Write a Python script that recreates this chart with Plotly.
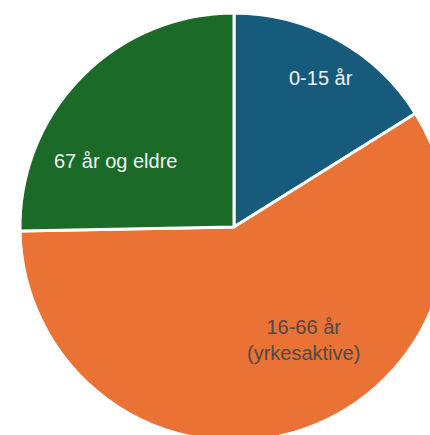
import plotly.graph_objects as go

labels = ["0-15 år", "16-66 år<br>(yrkesaktive)", "67 år og eldre"]
values = [16.1, 58.6, 25.3]
colors = ["#165b7c", "#e97234", "#1c6a28"]
label_colors = ["#eef2f4", "#4e4a47", "#eef2f4"]

# layout geometry (pixels)
W, H = 448, 441
ML, MT = 20, 13
D = 428
label_px = [(321, 78), (303, 340), (115, 161)]

fig = go.Figure(go.Pie(
    labels=labels,
    values=values,
    sort=False,
    direction="clockwise",
    rotation=0,
    marker=dict(colors=colors, line=dict(color="white", width=3)),
    textinfo="none",
    hoverinfo="label+percent",
    showlegend=False,
    domain=dict(x=[0, 1], y=[0, 1]),
))

for lab, col, (px, py) in zip(labels, label_colors, label_px):
    fig.add_annotation(
        x=(px - ML) / D, y=1 - (py - MT) / D,
        xref="paper", yref="paper",
        text=lab, showarrow=False,
        font=dict(family="Liberation Sans, Arial, sans-serif", size=20, color=col),
        align="center", xanchor="center", yanchor="middle",
    )

fig.update_layout(
    width=W, height=H,
    margin=dict(l=ML, r=0, t=MT, b=0, pad=0),
    paper_bgcolor="white",
    plot_bgcolor="white",
)

fig.write_html(
    "out.html",
    config={"displayModeBar": False},
    post_script="document.body.style.margin='0';document.body.style.overflow='hidden';document.documentElement.style.overflow='hidden';",
)
